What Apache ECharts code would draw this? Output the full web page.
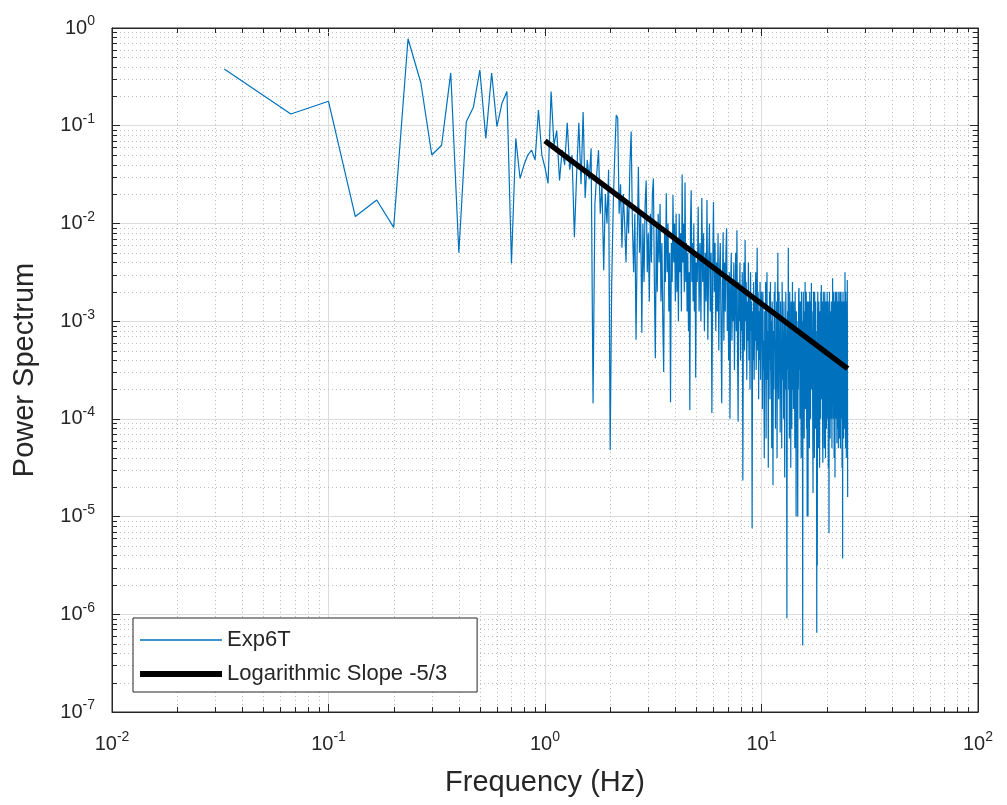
<!DOCTYPE html>
<html>
<head>
<meta charset="utf-8">
<script src="https://cdn.jsdelivr.net/npm/echarts@6/dist/echarts.min.js"></script>
<style>
html,body{margin:0;padding:0;background:#fff;}
#chart{width:1007px;height:805px;}
</style>
</head>
<body>
<div id="chart"></div>
<script>
// ---- Data (power given as log10 values) ----
const freqA = [0.033,0.067,0.1,0.133,0.167,0.2,0.233,0.267,0.3,0.333,0.367,0.4,0.433,0.467,0.5,0.533,0.567,0.6,0.633,0.667,0.7,0.733,0.767,0.8,0.833,0.867,0.9,0.933,0.967,1.0,1.033,1.067,1.1,1.133,1.167,1.2,1.233,1.267,1.3,1.333,1.367,1.4,1.433,1.467,1.5,1.533,1.567,1.6,1.633,1.667,1.7,1.733,1.767,1.8,1.833,1.867,1.9,1.933,1.967,2.0];
const log10PowA = [-0.42,-0.88,-0.75,-1.93,-1.76,-2.04,-0.11,-0.56,-1.30,-1.20,-0.46,-2.30,-0.96,-0.81,-0.43,-1.13,-0.46,-1.01,-0.77,-0.65,-2.41,-1.13,-1.54,-1.40,-1.30,-1.25,-1.35,-0.84,-1.30,-1.43,-1.59,-0.65,-1.20,-1.05,-1.56,-1.25,-1.40,-0.97,-1.45,-1.30,-2.14,-1.50,-0.97,-1.60,-0.86,-1.74,-1.35,-1.55,-1.23,-3.84,-1.80,-1.50,-1.25,-1.90,-1.60,-2.48,-1.70,-2.00,-1.45,-4.32];

const freqB = [2.033,2.067,2.1,2.133,2.167,2.2,2.233,2.267,2.3,2.333,2.367,2.4,2.433,2.467,2.5,2.533,2.567,2.6,2.633,2.667,2.7,2.733,2.767,2.8,2.833,2.867,2.9,2.933,2.967,3.0,
 3.033,3.067,3.1,3.133,3.167,3.2,3.233,3.267,3.3,3.333,3.367,3.4,3.433,3.467,3.5,3.533,3.567,3.6,3.633,3.667,3.7,3.733,3.767,3.8,3.833,3.867,3.9,3.933,3.967,4.0,
 4.033,4.067,4.1,4.133,4.167,4.2,4.233,4.267,4.3,4.333,4.367,4.4,4.433,4.467,4.5,4.533,4.567,4.6,4.633,4.667,4.7,4.733,4.767,4.8,4.833,4.867,4.9,4.933,4.967,5.0];
const log10PowB = [-2.60,-1.80,-1.30,-0.89,-0.92,-1.90,-1.60,-2.25,-1.70,-2.00,-2.40,-1.80,-2.10,-1.40,-1.06,-2.00,-2.50,-1.90,-3.19,-2.20,-1.42,-2.30,-1.90,-3.12,-2.00,-2.60,-1.80,-1.56,-2.50,-2.10,
 -2.80,-1.90,-2.40,-1.70,-1.54,-2.60,-3.38,-2.00,-2.70,-1.90,-2.40,-1.80,-2.80,-2.20,-3.00,-3.52,-2.10,-2.60,-1.69,-2.50,-2.00,-2.90,-2.30,-3.83,-2.20,-2.60,-1.71,-2.40,-2.00,-2.80,
 -1.90,-2.70,-2.20,-3.00,-1.90,-2.50,-2.10,-2.90,-1.50,-2.40,-2.00,-2.70,-1.58,-2.60,-2.20,-2.90,-2.30,-3.10,-2.50,-3.91,-2.00,-1.66,-2.60,-2.20,-2.80,-2.00,-2.90,-2.30,-3.58,-2.40];

const freqC = [5.05,5.1,5.15,5.2,5.25,5.3,5.35,5.4,5.45,5.5,5.55,5.6,5.65,5.7,5.75,5.8,5.85,5.9,5.95,6.0,
 6.05,6.1,6.15,6.2,6.25,6.3,6.35,6.4,6.45,6.5,6.55,6.6,6.65,6.7,6.75,6.8,6.85,6.9,6.95,7.0,
 7.05,7.1,7.15,7.2,7.25,7.3,7.35,7.4,7.45,7.5,7.55,7.6,7.65,7.7,7.75,7.8,7.85,7.9,7.95,8.0,
 8.05,8.1,8.15,8.2,8.25,8.3,8.35,8.4,8.45,8.5,8.55,8.6,8.65,8.7,8.75,8.8,8.85,8.9,8.95,9.0,
 9.05,9.1,9.15,9.2,9.25,9.3,9.35,9.4,9.45,9.5,9.55,9.6,9.65,9.7,9.75,9.8,9.85,9.9,9.95,10.0];
const log10PowC = [-2.6,-1.83,-2.9,-2.2,-3.0,-1.74,-2.6,-2.1,-3.1,-2.3,-2.8,-1.76,-3.19,-2.4,-2.0,-2.9,-2.3,-3.94,-2.5,-1.78,
 -2.7,-2.2,-3.1,-2.4,-2.9,-2.1,-3.3,-2.5,-2.2,-3.0,-3.84,-2.6,-2.09,-3.2,-2.4,-2.9,-2.3,-2.05,-3.1,-2.6,
 -3.4,-2.5,-4.0,-2.7,-2.3,-3.2,-2.6,-3.0,-2.4,-3.5,-2.8,-2.3,-3.1,-2.07,-3.3,-4.03,-2.6,-3.0,-2.4,-3.4,
 -2.7,-3.1,-2.5,-4.63,-2.9,-2.4,-3.3,-2.17,-3.0,-2.6,-3.6,-2.8,-3.2,-2.4,-3.4,-2.7,-3.7,-2.5,-3.1,-2.8,
 -5.12,-2.9,-3.4,-2.6,-3.6,-2.8,-3.2,-2.5,-3.5,-2.9,-2.25,-3.3,-2.7,-3.8,-2.9,-3.4,-2.6,-3.6,-3.0,-2.7];

const freqD = [
 10.05,10.1,10.15,10.2,10.25,10.3,10.35,10.4,10.45,10.5,10.55,10.6,10.65,10.7,10.75,10.8,10.85,10.9,10.95,11.0,
 11.05,11.1,11.15,11.2,11.25,11.3,11.35,11.4,11.45,11.5,11.55,11.6,11.65,11.7,11.75,11.8,11.85,11.9,11.95,12.0,
 12.05,12.1,12.15,12.2,12.25,12.3,12.35,12.4,12.45,12.5,12.55,12.6,12.65,12.7,12.75,12.8,12.85,12.9,12.95,13.0,
 13.05,13.1,13.15,13.2,13.25,13.3,13.35,13.4,13.45,13.5,13.55,13.6,13.65,13.7,13.75,13.8,13.85,13.9,13.95,14.0,
 14.05,14.1,14.15,14.2,14.25,14.3,14.35,14.4,14.45,14.5,14.55,14.6,14.65,14.7,14.75,14.8,14.85,14.9,14.95,15.0,
 15.05,15.1,15.15,15.2,15.25,15.3,15.35,15.4,15.45,15.5,15.55,15.6,15.65,15.7,15.75,15.8,15.85,15.9,15.95,16.0,
 16.05,16.1,16.15,16.2,16.25,16.3,16.35,16.4,16.45,16.5,16.55,16.6,16.65,16.7,16.75,16.8,16.85,16.9,16.95,17.0,
 17.05,17.1,17.15,17.2,17.25,17.3,17.35,17.4,17.45,17.5,17.55,17.6,17.65,17.7,17.75,17.8,17.85,17.9,17.95,18.0,
 18.05,18.1,18.15,18.2,18.25,18.3,18.35,18.4,18.45,18.5,18.55,18.6,18.65,18.7,18.75,18.8,18.85,18.9,18.95,19.0,
 19.05,19.1,19.15,19.2,19.25,19.3,19.35,19.4,19.45,19.5,19.55,19.6,19.65,19.7,19.75,19.8,19.85,19.9,19.95,20.0,
 20.05,20.1,20.15,20.2,20.25,20.3,20.35,20.4,20.45,20.5,20.55,20.6,20.65,20.7,20.75,20.8,20.85,20.9,20.95,21.0,
 21.05,21.1,21.15,21.2,21.25,21.3,21.35,21.4,21.45,21.5,21.55,21.6,21.65,21.7,21.75,21.8,21.85,21.9,21.95,22.0,
 22.05,22.1,22.15,22.2,22.25,22.3,22.35,22.4,22.45,22.5,22.55,22.6,22.65,22.7,22.75,22.8,22.85,22.9,22.95,23.0,
 23.05,23.1,23.15,23.2,23.25,23.3,23.35,23.4,23.45,23.5,23.55,23.6,23.65,23.7,23.75,23.8,23.85,23.9,23.95,24.0,
 24.05,24.1,24.15,24.2,24.25,24.3,24.35,24.4,24.45,24.5,24.55,24.6,24.65,24.7,24.75,24.8,24.85,24.9,24.95,25.0];
const log10PowD = [
 -3.0,-3.9,-2.7,-3.5,-3.2,-4.4,-2.9,-3.6,-2.6,-4.2,-3.0,-2.5,-3.6,-3.1,-4.5,-2.9,-3.4,-2.7,-3.8,-2.6,
 -3.5,-3.0,-4.3,-2.8,-3.4,-4.68,-3.1,-3.7,-2.7,-3.3,-2.6,-4.1,-3.2,-3.6,-2.8,-4.4,-3.0,-2.3,-3.5,-3.8,
 -2.7,-3.5,-3.1,-4.14,-2.8,-3.7,-3.2,-4.3,-2.6,-2.9,-3.6,-3.1,-4.0,-2.8,-3.4,-4.6,-3.0,-3.7,-2.7,-3.3,
 -3.8,-6.04,-3.2,-2.9,-3.5,-2.25,-3.7,-3.1,-4.2,-2.7,-3.4,-3.0,-4.5,-2.8,-3.6,-4.1,-3.2,-2.6,-3.7,-3.0,
 -3.9,-2.8,-3.5,-3.1,-4.3,-2.7,-3.4,-3.2,-5.0,-2.9,-3.6,-3.0,-3.9,-5.0,-3.1,-3.7,-2.7,-2.66,-3.5,-3.1,
 -4.0,-2.8,-3.6,-3.2,-4.4,-2.7,-3.4,-3.0,-3.8,-6.32,-3.2,-2.7,-3.6,-3.0,-4.2,-2.9,-3.5,-2.6,-3.9,-3.1,
 -3.5,-2.7,-4.1,-3.0,-5.0,-2.8,-3.4,-5.0,-3.1,-2.8,-3.8,-3.0,-4.3,-2.7,-3.5,-3.2,-4.0,-2.8,-3.4,-2.61,
 -3.7,-2.9,-3.5,-3.1,-4.2,-4.76,-3.0,-2.7,-3.6,-3.1,-4.4,-2.7,-3.5,-3.0,-4.1,-2.8,-3.7,-3.1,-3.9,-6.19,
 -3.2,-5.5,-3.0,-2.7,-3.6,-3.1,-4.3,-2.8,-3.5,-3.0,-4.5,-2.9,-3.7,-3.1,-4.0,-2.7,-3.4,-2.63,-3.8,-3.0,
 -3.7,-2.8,-4.2,-4.45,-3.5,-2.7,-4.0,-3.1,-3.6,-4.3,-2.9,-2.7,-3.8,-3.0,-4.4,-2.8,-3.5,-3.1,-4.1,-2.8,
 -3.6,-2.7,-4.0,-3.1,-3.5,-2.8,-4.5,-3.0,-3.7,-5.17,-3.1,-2.7,-3.8,-3.0,-4.2,-2.9,-3.5,-3.1,-4.0,-2.8,
 -3.7,-2.9,-4.3,-3.0,-3.5,-2.56,-3.7,-3.1,-4.0,-2.7,-3.4,-3.0,-4.4,-2.8,-3.6,-3.1,-4.6,-2.7,-3.5,-3.2,
 -3.8,-4.0,-3.0,-2.7,-3.6,-4.25,-3.1,-2.8,-4.1,-3.0,-3.5,-2.7,-4.3,-3.0,-3.7,-2.8,-4.2,-3.1,-3.5,-2.7,
 -3.8,-3.0,-4.3,-2.8,-3.5,-2.7,-4.0,-3.0,-3.6,-2.8,-4.5,-3.1,-3.7,-5.43,-3.2,-2.7,-3.6,-3.0,-4.2,-2.8,
 -3.7,-3.0,-4.1,-2.8,-3.5,-2.5,-3.8,-3.1,-4.3,-2.7,-3.6,-3.0,-4.4,-2.8,-3.5,-3.2,-4.0,-2.58,-3.4,-4.8];

// -5/3 reference line endpoints
const slopeFreq = [1.0, 25.0];
const slopePow = [0.07, 3.27e-4];

const seriesNames = ['Exp6T', 'Logarithmic Slope -5/3'];

// ---- build ----
const specData = [];
[[freqA, log10PowA], [freqB, log10PowB], [freqC, log10PowC], [freqD, log10PowD]].forEach(function (seg) {
  seg[0].forEach(function (f, i) { specData.push([f, Math.pow(10, seg[1][i])]); });
});
const slopeData = slopeFreq.map(function (f, i) { return [f, slopePow[i]]; });

const X_MIN = 0.01, X_MAX = 100, Y_MIN = 1e-7, Y_MAX = 1;
const xMinor = [], yMinor = [];
for (let d = -2; d <= 1; d++) for (let k = 2; k <= 9; k++) xMinor.push(k * Math.pow(10, d));
for (let d = -7; d <= -1; d++) for (let k = 2; k <= 9; k++) yMinor.push(k * Math.pow(10, d));

const FONT = "'Liberation Sans', Arial, Helvetica, sans-serif";
const AX = '#262626';
const MINOR_GRID = '#bdbdbd';
const MAJOR_GRID = '#dcdcdc';
const BLUE = '#0072BD';

function powLabel(v) {
  const e = Math.round(Math.log10(v));
  return '{b|10}{s|' + e + '}';
}
const richLab = {
  b: { fontSize: 20, fontFamily: FONT, color: AX, lineHeight: 22 },
  s: { fontSize: 14, fontFamily: FONT, color: AX, lineHeight: 14, padding: [0, 0, 13, 0] }
};

function crisp(v) { return Math.round(v) + 0.5; }

// legend icons: horizontal line samples (tiny corner specks keep the 82x20 box)
const iconThin = 'path://M0,0h0.01v0.01h-0.01z M0,9.3h82v1.4h-82z M81.99,19.99h0.01v0.01h-0.01z';
const iconThick = 'path://M0,0h0.01v0.01h-0.01z M0,7h82v6h-82z M81.99,19.99h0.01v0.01h-0.01z';

const chart = echarts.init(document.getElementById('chart'), null, { renderer: 'canvas' });
const option = {
  animation: false,
  backgroundColor: '#ffffff',
  grid: { left: 112, right: 29, top: 28, bottom: 93, show: true, borderColor: AX, borderWidth: 1, backgroundColor: 'transparent' },
  legend: {
    data: [
      { name: seriesNames[0], icon: iconThin, itemStyle: { color: BLUE } },
      { name: seriesNames[1], icon: iconThick, itemStyle: { color: '#000000' } }
    ],
    orient: 'vertical',
    left: 133, top: 618,
    padding: [11, 30, 7, 7],
    itemWidth: 82, itemHeight: 20, itemGap: 12,
    backgroundColor: '#ffffff',
    borderColor: AX, borderWidth: 1, borderRadius: 0,
    textStyle: { fontSize: 22, fontFamily: FONT, color: AX, lineHeight: 20 },
    selectedMode: false
  },
  xAxis: [{
    type: 'log', logBase: 10, min: X_MIN, max: X_MAX,
    name: 'Frequency (Hz)', nameLocation: 'middle', nameGap: 56,
    nameTextStyle: { fontSize: 29, fontFamily: FONT, color: AX },
    axisLine: { show: true, lineStyle: { color: AX, width: 1 } },
    axisTick: { show: true, inside: true, length: 8, lineStyle: { color: AX } },
    axisLabel: { formatter: powLabel, rich: richLab, margin: 21 },
    splitLine: { show: true, lineStyle: { color: MAJOR_GRID, width: 1 } },
    minorTick: { show: false }, minorSplitLine: { show: false }
  }, {
    type: 'log', logBase: 10, min: X_MIN, max: X_MAX, position: 'top',
    axisLine: { show: true, lineStyle: { color: AX } },
    axisTick: { show: true, inside: true, length: 8, lineStyle: { color: AX } },
    axisLabel: { show: false }, splitLine: { show: false }
  }],
  yAxis: [{
    type: 'log', logBase: 10, min: Y_MIN, max: Y_MAX,
    name: 'Power Spectrum', nameLocation: 'middle', nameGap: 73, nameRotate: 90,
    nameTextStyle: { fontSize: 29, fontFamily: FONT, color: AX },
    axisLine: { show: true, lineStyle: { color: AX, width: 1 } },
    axisTick: { show: true, inside: true, length: 8, lineStyle: { color: AX } },
    axisLabel: { formatter: powLabel, rich: richLab, margin: 17 },
    splitLine: { show: true, lineStyle: { color: MAJOR_GRID, width: 1 } },
    minorTick: { show: false }, minorSplitLine: { show: false }
  }, {
    type: 'log', logBase: 10, min: Y_MIN, max: Y_MAX, position: 'right',
    axisLine: { show: true, lineStyle: { color: AX } },
    axisTick: { show: true, inside: true, length: 8, lineStyle: { color: AX } },
    axisLabel: { show: false }, splitLine: { show: false }
  }],
  series: [
    {
      name: 'xMinorGrid', type: 'custom', xAxisIndex: 0, yAxisIndex: 0, silent: true, z: 1,
      data: xMinor.map(function (v) { return [v, Y_MIN]; }),
      renderItem: function (params, api) {
        const cs = params.coordSys;
        const x = crisp(api.coord([api.value(0), Y_MIN])[0]);
        const top = cs.y, bot = cs.y + cs.height;
        return { type: 'group', children: [
          { type: 'line', shape: { x1: x, y1: top, x2: x, y2: bot }, style: { stroke: MINOR_GRID, lineWidth: 1, lineDash: [1, 3] } },
          { type: 'line', shape: { x1: x, y1: bot, x2: x, y2: bot - 5 }, style: { stroke: AX, lineWidth: 1 } },
          { type: 'line', shape: { x1: x, y1: top, x2: x, y2: top + 5 }, style: { stroke: AX, lineWidth: 1 } }
        ] };
      }
    },
    {
      name: 'yMinorGrid', type: 'custom', xAxisIndex: 0, yAxisIndex: 0, silent: true, z: 1,
      data: yMinor.map(function (v) { return [X_MIN, v]; }),
      renderItem: function (params, api) {
        const cs = params.coordSys;
        const y = crisp(api.coord([X_MIN, api.value(1)])[1]);
        const l = cs.x, r = cs.x + cs.width;
        return { type: 'group', children: [
          { type: 'line', shape: { x1: l, y1: y, x2: r, y2: y }, style: { stroke: MINOR_GRID, lineWidth: 1, lineDash: [1, 3] } },
          { type: 'line', shape: { x1: l, y1: y, x2: l + 5, y2: y }, style: { stroke: AX, lineWidth: 1 } },
          { type: 'line', shape: { x1: r, y1: y, x2: r - 5, y2: y }, style: { stroke: AX, lineWidth: 1 } }
        ] };
      }
    },
    {
      name: seriesNames[0], type: 'line', xAxisIndex: 0, yAxisIndex: 0, z: 3,
      data: specData, symbol: 'none', showSymbol: false,
      lineStyle: { color: BLUE, width: 1.2 }, itemStyle: { color: BLUE }
    },
    {
      name: seriesNames[1], type: 'line', xAxisIndex: 0, yAxisIndex: 0, z: 4,
      data: slopeData, symbol: 'none', showSymbol: false,
      lineStyle: { color: '#000000', width: 5.5 }, itemStyle: { color: '#000000' }
    }
  ]
};
chart.setOption(option);
</script>
</body>
</html>
